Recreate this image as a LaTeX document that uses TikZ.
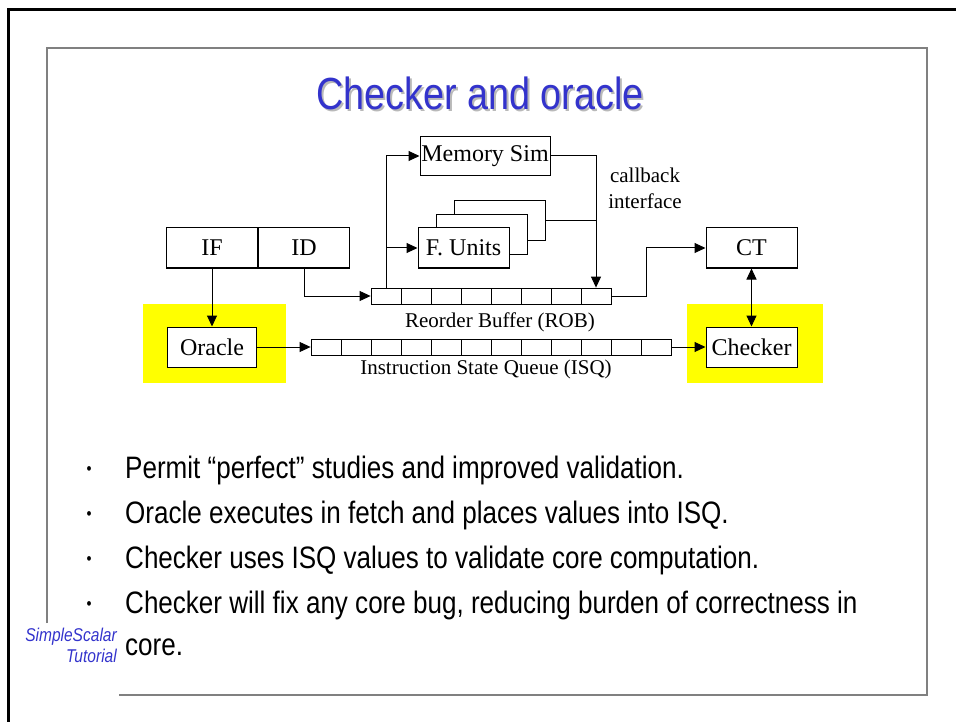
\documentclass[tikz,border=0pt]{standalone}
\usepackage{fontspec}
\usetikzlibrary{arrows.meta,positioning}
\newfontfamily\boxfont{Liberation Serif}
\newfontfamily\slidefont{Liberation Sans}[FakeStretch=0.84]
\definecolor{titleblue}{RGB}{51,51,204}
\definecolor{hilite}{RGB}{255,255,0}

\begin{document}
\begin{tikzpicture}[x=1pt,y=-1pt]
\tikzset{unit/.style={draw, line width=1pt, fill=white, minimum width=91pt, minimum height=40pt, inner sep=0pt, font=\boxfont\fontsize{24}{24}\selectfont},
  cell/.style={draw, line width=0.8pt, fill=white, minimum width=30pt, minimum height=16pt, inner sep=0pt},
  lbl/.style={inner sep=0pt, font=\boxfont\fontsize{21}{26}\selectfont},
  flow/.style={line width=1pt, -{Triangle[length=11pt,width=10pt]}},
  twoway/.style={line width=1pt, {Triangle[length=11pt,width=10pt]}-{Triangle[length=11pt,width=10pt]}},
  slide/.style={anchor=base west, inner sep=0pt, font=\slidefont\fontsize{31}{31}\selectfont}}
\useasboundingbox (0,0) rectangle (956,722);
\draw[line width=3pt] (8,722) -- (8,10) -- (956,10);
\draw[gray, line width=2pt] (47,623) -- (47,48) -- (927,48) -- (927,695) -- (119,695);
\node[text=gray!55, font=\slidefont\fontsize{45}{45}\selectfont] (shadow) at (482,95) {Checker and oracle};
\node[text=titleblue, font=\slidefont\fontsize{45}{45}\selectfont] (title) at (480,93) {Checker and oracle};
\fill[hilite] (143,304) rectangle (286,383);
\fill[hilite] (687,304) rectangle (823,383);
\node[unit] (IF) at (212,248) {IF};
\node[unit, right=0pt of IF] (ID) {ID};
\node[unit, minimum width=130pt, minimum height=39pt] (mem) at (485,156) {Memory Sim};
\node[unit] (fu3) at (500,221) {};
\node[unit] (fu2) at (482,234.5) {};
\node[unit] (fu) at (463.5,248) {F. Units};
\node[unit] (CT) at (751.5,248) {CT};
\node[unit, minimum width=89pt] (oracle) at (212,347) {Oracle};
\node[unit] (checker) at (751.5,347) {Checker};
\foreach \i in {1,...,8}
  \node[cell] (rob\i) at ({356+30*\i},296) {};
\foreach \i in {1,...,12}
  \node[cell] (isq\i) at ({296+30*\i},347) {};
\node[lbl] (roblbl) at (500,322) {Reorder Buffer (ROB)};
\node[lbl] (isqlbl) at (486,369) {Instruction State Queue (ISQ)};
\node[lbl, align=center] (cbi) at (645,188) {callback\\interface};
\draw[flow] (IF) -- (oracle);
\draw[flow] (ID.south) |- (rob1.west);
\draw[flow] (rob1.north) |- (mem.west);
\draw[flow] (rob1.north) |- (fu.west);
\draw[flow] (mem.east) -| (rob8.north);
\draw[line width=1pt] (fu3.east) -- (fu3.east -| rob8.north);
\draw[flow] (rob8.east) -- ++(35,0) |- (CT.west);
\draw[twoway] (CT) -- (checker);
\draw[flow] (oracle) -- (isq1);
\draw[flow] (isq12) -- (checker);
\foreach \y/\t [count=\k] in {478/{Permit “perfect” studies and improved validation.},
    523/{Oracle executes in fetch and places values into ISQ.},
    568/{Checker uses ISQ values to validate core computation.},
    613/{Checker will fix any core bug, reducing burden of correctness in}} {
  \node[anchor=base, inner sep=0pt, font=\slidefont\fontsize{17}{17}\selectfont] (dot\k) at (89,\y-4) {•};
  \node[slide] (line\k) at (125,\y) {\t};
}
\node[slide] (line5) at (125,655) {core.};
\node[anchor=base east, align=right, inner sep=0pt, text=titleblue, font=\slidefont\itshape\fontsize{18.5}{21}\selectfont] (tag) at (117,662) {SimpleScalar\\Tutorial};
\end{tikzpicture}
\end{document}
